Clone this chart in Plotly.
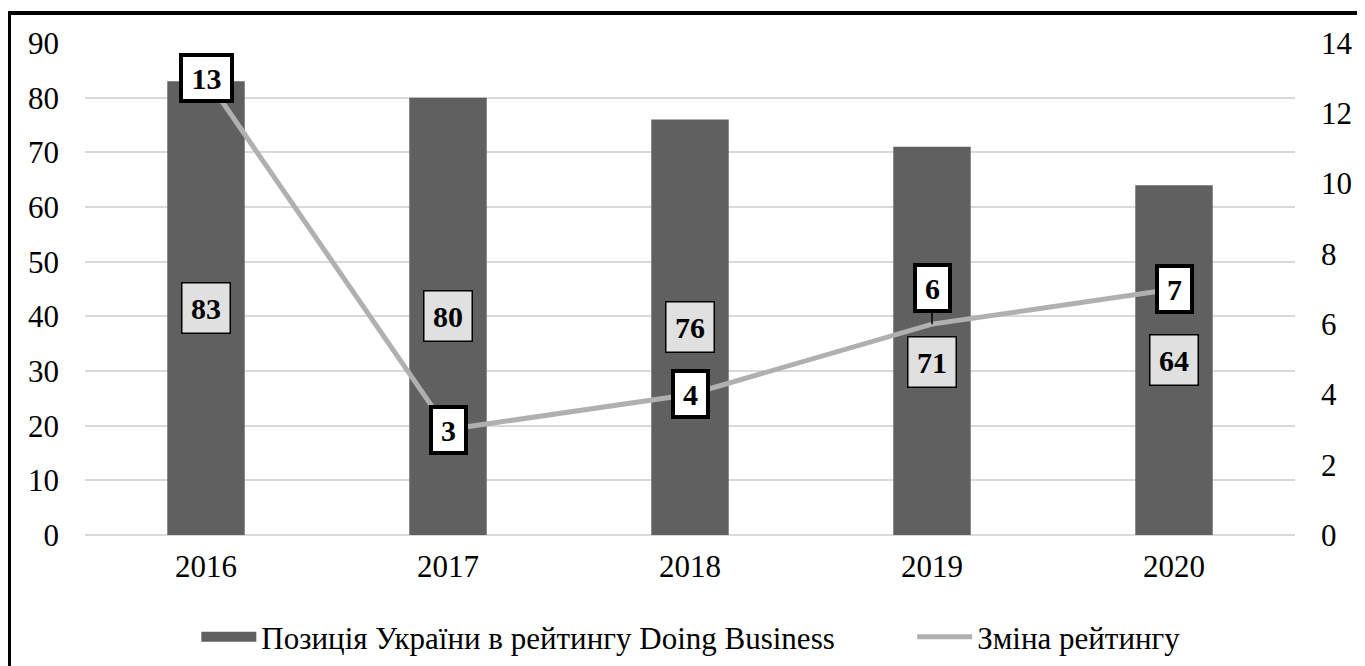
import plotly.graph_objects as go

years = [2016, 2017, 2018, 2019, 2020]
positions = [83, 80, 76, 71, 64]
changes = [13, 3, 4, 6, 7]

bar_name = 'Позиція України в рейтингу Doing Business'
line_name = 'Зміна рейтингу'

FONT = 'Times New Roman'

fig = go.Figure()
fig.add_trace(go.Bar(x=years, y=positions, name=bar_name, showlegend=False,
                     marker={'color': '#606060', 'line': {'width': 0}},
                     yaxis='y'))
fig.add_trace(go.Scatter(x=years, y=changes, name=line_name, mode='lines',
                         line={'color': '#b0b0b0', 'width': 5},
                         yaxis='y2', legend='legend2'))
# legend swatch for the bars (wide block like the original)
fig.add_trace(go.Scatter(x=[None], y=[None], name=bar_name, mode='lines',
                         line={'color': '#606060', 'width': 17},
                         legend='legend'))

# bar value labels, in the middle of each bar
for yr, v in zip(years, positions):
    txt = str(v)
    fig.add_annotation(x=yr, y=v / 2, xref='x', yref='y', text=f'<b>{txt}</b>',
                       showarrow=False, font={'size': 30, 'color': 'black',
                                              'family': FONT},
                       width=16 * len(txt) + 5, height=39,
                       bgcolor='#e0e0e0', bordercolor='black', borderwidth=1.5,
                       borderpad=5, yshift=-21 if yr == 2019 else 0)

# line value labels
for yr, v in zip(years, changes):
    txt = str(v)
    lifted = yr == 2019
    fig.add_annotation(x=yr, y=v, xref='x', yref='y2', text=f'<b>{txt}</b>',
                       showarrow=lifted, arrowhead=0, arrowwidth=1.5,
                       arrowcolor='black', ax=0, ay=-36,
                       font={'size': 30, 'color': 'black', 'family': FONT},
                       width=16 * len(txt) + 9, height=36,
                       bgcolor='white', bordercolor='black', borderwidth=4,
                       borderpad=3)

# outer frame (right and bottom edges fall outside the page)
fig.add_shape(type='rect', xref='paper', yref='paper',
              x0=-76 / 1210, x1=1 + 100 / 1210, y0=-200 / 492, y1=1 + 30 / 492,
              line={'color': 'black', 'width': 4}, layer='below')

# page body has an 8px margin, so the figure is 8px smaller each way
fig.update_layout(
    width=1357, height=658,
    margin={'l': 77, 'r': 70, 't': 35, 'b': 131},
    paper_bgcolor='white', plot_bgcolor='white',
    font={'family': FONT, 'size': 31, 'color': 'black'},
    bargap=0.68,
    showlegend=True,
    legend={'orientation': 'h', 'x': 0.092, 'xanchor': 'left',
            'yref': 'container', 'y': 0.044, 'yanchor': 'middle',
            'font': {'size': 31}, 'itemwidth': 55},
    legend2={'orientation': 'h', 'x': 0.6836, 'xanchor': 'left',
             'yref': 'container', 'y': 0.044, 'yanchor': 'middle',
             'font': {'size': 31}, 'itemwidth': 55},
    xaxis={'range': [2015.5, 2020.5], 'tickvals': years, 'showgrid': False,
           'showline': False, 'zeroline': False, 'ticks': '',
           'ticklabelstandoff': 10, 'tickfont': {'size': 31}},
    yaxis={'range': [0, 90], 'dtick': 10, 'showgrid': True,
           'gridcolor': '#d9d9d9', 'gridwidth': 1.5, 'zeroline': True,
           'zerolinecolor': '#d9d9d9', 'zerolinewidth': 1.5,
           'ticklabelstandoff': 25, 'tickfont': {'size': 31}},
    yaxis2={'range': [0, 14], 'dtick': 2, 'overlaying': 'y', 'side': 'right',
            'showgrid': False, 'zeroline': False,
            'ticklabelstandoff': 25, 'tickfont': {'size': 31}},
)

fig.write_html('out.html')
